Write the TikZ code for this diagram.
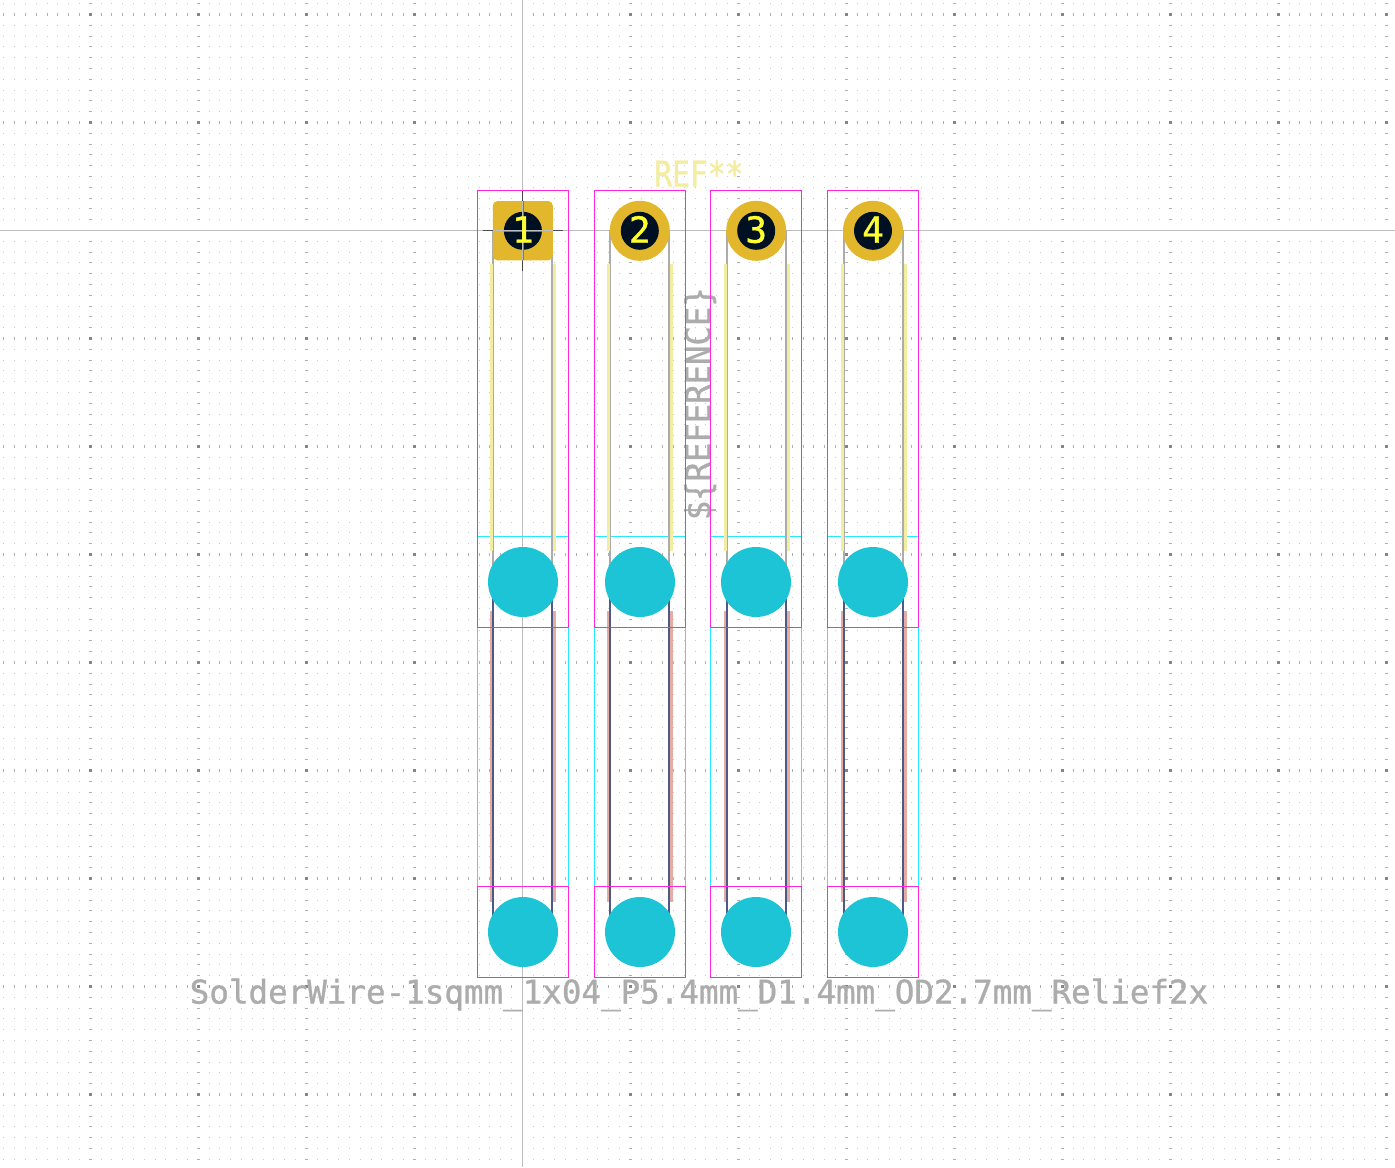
\documentclass[tikz,border=0pt]{standalone}
\usepackage{fontspec}
\usepackage{graphicx}
\setmainfont[FakeBold=1]{DejaVu Sans Mono}
\definecolor{griddot}{HTML}{CBCBCB}
\definecolor{gridtick}{HTML}{B0B0B0}
\definecolor{gridmajor}{HTML}{858585}
\definecolor{originline}{HTML}{BDBDBD}
\definecolor{courtyard}{HTML}{FF26E2}
\definecolor{fabcyan}{HTML}{26E8FF}
\definecolor{padgold}{HTML}{E3B72B}
\definecolor{drill}{HTML}{001023}
\definecolor{backpad}{HTML}{1CC4D6}
\definecolor{fabgrey}{HTML}{ACACAC}
\definecolor{silk}{HTML}{F2EDA1}
\definecolor{backfab}{HTML}{4D5A87}
\definecolor{backsilk}{HTML}{E3ADA3}
\definecolor{crossdark}{HTML}{4A4A4A}
\definecolor{crossblue}{HTML}{6A6AE6}
\definecolor{padnum}{HTML}{FFFF30}
\tikzset{
  x=.75pt,y=-.75pt,
  dotrow/.style={griddot,line width=.75pt,dash pattern=on .75pt off 7.35pt},
  majorcol/.style={gridtick,line width=2.25pt,dash pattern=on .75pt off 7.35pt},
  majorrow/.style={gridtick,line width=2.25pt,dash pattern=on .75pt off 7.35pt},
  majordot/.style={fill=gridmajor,draw=none},
  origin/.style={originline,line width=.75pt},
  courtbox/.style={courtyard,line width=.75pt},
  cyanbox/.style={fabcyan,line width=.75pt},
  fabline/.style={fabgrey,line width=1.5pt},
  silkline/.style={silk,line width=2.5pt},
  backfabline/.style={backfab,line width=1.5pt},
  backsilkline/.style={backsilk,line width=2.5pt},
  goldpad/.style={circle,fill=padgold,draw=none,minimum size=45pt,inner sep=0pt},
  drillhole/.style={circle,fill=drill,draw=none,minimum size=28.5pt,inner sep=0pt},
  bluepad/.style={circle,fill=backpad,draw=none,minimum size=52.5pt,inner sep=0pt},
  padlabel/.style={text=padnum,font=\fontsize{27pt}{27pt}\selectfont,inner sep=0pt,anchor=base},
  greytext/.style={text=fabgrey,inner sep=0pt,anchor=base west},
}
\begin{document}
\begin{tikzpicture}
\useasboundingbox[fill=white] (0,0) rectangle (1395,1167);
% grid
\foreach \k in {0,...,107}{
  \pgfmathsetmacro\yy{3.7+10.8*\k}
  \draw[dotrow] (3.4,\yy) -- (1395,\yy);
}
\foreach \k in {0,1,2,3,5,6,7,8,9,10,11,12}{
  \pgfmathsetmacro\xx{90.5+108*\k}
  \draw[majorcol] (\xx,3.2) -- (\xx,1167);
}
\foreach \k in {0,1,3,4,5,6,7,8,9,10}{
  \pgfmathsetmacro\yy{14.5+108*\k}
  \draw[majorrow] (3.4,\yy) -- (1395,\yy);
  \foreach \j in {0,1,2,3,5,6,7,8,9,10,11,12}{
    \pgfmathsetmacro\xx{90.5+108*\j}
    \fill[majordot] (\xx-1.5,\yy-1.5) rectangle (\xx+1.5,\yy+1.5);
  }
}
% origin
\draw[white,line width=2.25pt] (522.5,0) -- (522.5,1167);
\draw[white,line width=2.25pt] (0,230.5) -- (1395,230.5);
\draw[origin] (522.5,0) -- (522.5,1167);
\draw[origin] (0,230.5) -- (1395,230.5);
% texts
\node[greytext,rotate=90] (fabref) at (710.5,520.5) {\fontsize{26pt}{26pt}\selectfont\scalebox{.93}[1]{\$\{REFERENCE\}}};
\node[greytext] (fpname) at (189.5,1003.5) {\fontsize{24.4pt}{25pt}\selectfont SolderWire-1sqmm\_1x04\_P5.4mm\_D1.4mm\_OD2.7mm\_Relief2x};
\node[text=silk,inner sep=0pt,anchor=base west] (silkref) at (654,186.5) {\fontsize{26.5pt}{27pt}\selectfont\scalebox{.84}[1]{REF**}};
% columns: centre / courtyard left / fab left / fab right / silk left / silk right / number
\foreach \c/\bl/\fl/\fr/\sl/\sr/\n in {
  523/477.5/493/552/491.7/554.5/1,
  640/594.5/610/669/608.5/671.5/2,
  756/710.5/726.5/786/725.8/788.5/3,
  873/827.5/844/903/842.7/905.5/4}{
  \pgfmathsetmacro\br{\bl+91}
  \draw[cyanbox] (\bl,536.5) rectangle (\br,886.5);
  \draw[fabline] (\fl,230) -- (\fl,582);
  \draw[fabline] (\fr,230) -- (\fr,582);
  \draw[backsilkline] (\sl,611) -- (\sl,902);
  \draw[backsilkline] (\sr,611) -- (\sr,902);
  \draw[backfabline] (\fl,582) -- (\fl,932);
  \draw[backfabline] (\fr,582) -- (\fr,932);
  \draw[silkline] (\sl,264) -- (\sl,551);
  \draw[silkline] (\sr,264) -- (\sr,551);
  \draw[courtbox] (\bl,190.5) rectangle (\br,627.5);
  \draw[courtbox] (\bl,886.5) rectangle (\br,977.5);
  \node[bluepad] (midpad\n) at (\c,582) {};
  \node[bluepad] (lowpad\n) at (\c,932) {};
}
% pads
\draw[crossdark,line width=.75pt] (483,230.5) -- (563,230.5);
\draw[crossdark,line width=.75pt] (522.5,191) -- (522.5,270.7);
\fill[padgold,rounded corners=3.6pt] (492.8,201) rectangle (552.8,260.4);
\node[goldpad] (pad2) at (639.8,230.8) {};
\node[goldpad] (pad3) at (756.2,230.8) {};
\node[goldpad] (pad4) at (873,230.8) {};
\draw[crossblue,line width=1.5pt] (522.5,201) -- (522.5,260.4);
\node[drillhole] (hole1) at (522.9,230.8) {};
\node[drillhole] (hole2) at (639.8,230.8) {};
\node[drillhole] (hole3) at (756.2,230.8) {};
\node[drillhole] (hole4) at (873,230.8) {};
\draw[crossblue,line width=1.5pt] (503.9,230.5) -- (541.9,230.5);
\draw[crossblue,line width=1.5pt] (522.5,212) -- (522.5,249.8);
\draw[origin] (492.8,230.5) -- (552.8,230.5);
\draw[origin] (522.5,201) -- (522.5,260.4);
\node[padlabel] (num1) at (522.9,242.7) {1};
\node[padlabel] (num2) at (639.8,242.7) {2};
\node[padlabel] (num3) at (756.2,242.7) {3};
\node[padlabel] (num4) at (873,242.7) {4};
\end{tikzpicture}
\end{document}
